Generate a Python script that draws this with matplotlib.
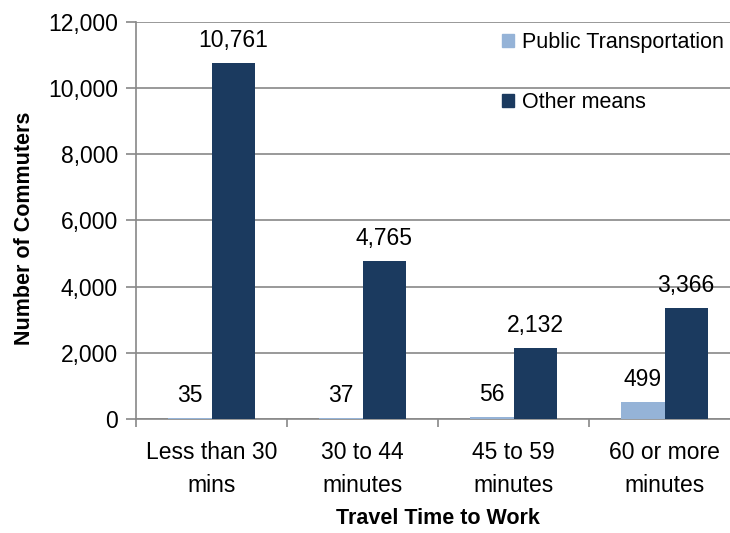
import matplotlib
matplotlib.use("Agg")
import matplotlib.pyplot as plt
from matplotlib.patches import Patch
import numpy as np

plt.rcParams['font.family'] = ['Liberation Sans', 'DejaVu Sans']

categories = ["Less than 30\nmins", "30 to 44\nminutes", "45 to 59\nminutes", "60 or more\nminutes"]
public_transport = [35, 37, 56, 499]
other_means = [10761, 4765, 2132, 3366]
series_names = ["Public Transportation", "Other means"]
y_ticks = [0, 2000, 4000, 6000, 8000, 10000, 12000]

light_blue = "#95B3D7"
dark_blue = "#1B3A5F"
grid_gray = "#888888"
fs = 16.5

fig = plt.figure(figsize=(7.30, 5.33), dpi=100)
ax = fig.add_axes([136 / 730, 1 - 419 / 533, 604 / 730, 397 / 533])

x = np.arange(len(categories))
w = 0.285
b1 = ax.bar(x - w / 2, public_transport, w, color=light_blue, zorder=3)
b2 = ax.bar(x + w / 2, other_means, w, color=dark_blue, zorder=3)

for bars, vals in ((b1, public_transport), (b2, other_means)):
    for rect, v in zip(bars, vals):
        ax.annotate(f"{v:,}", (rect.get_x() + rect.get_width() / 2, v),
                    xytext=(0, 8), textcoords="offset points",
                    ha="center", va="bottom", fontsize=fs)

ax.set_xlim(-0.5, len(categories) - 0.5)
ax.set_ylim(0, 12000)
ax.set_yticks(y_ticks)
ax.set_yticklabels([f"{t:,}" for t in y_ticks], fontsize=fs)
ax.yaxis.grid(True, color=grid_gray, linewidth=1.2, zorder=0)
ax.set_axisbelow(True)

ax.set_xticks(np.arange(len(categories) + 1) - 0.5)
ax.set_xticklabels([])
ax.set_xticks(x, minor=True)
ax.set_xticklabels(categories, minor=True, fontsize=fs, linespacing=1.55)
ax.tick_params(axis="x", which="minor", length=0, pad=16)
ax.tick_params(axis="x", which="major", length=6, width=1.2, color=grid_gray, direction="out")
ax.tick_params(axis="y", length=7, width=1.2, color=grid_gray, direction="out", pad=6)

for s in ("top", "right"):
    ax.spines[s].set_visible(False)
for s in ("left", "bottom"):
    ax.spines[s].set_color(grid_gray)
    ax.spines[s].set_linewidth(1.2)

ax.set_ylabel("Number of Commuters", fontsize=15.5, fontweight="bold")
ax.yaxis.set_label_coords(-101 / 604, 0.48)
ax.set_xlabel("Travel Time to Work", fontsize=15.5, fontweight="bold", labelpad=8)

handles = [Patch(color=light_blue), Patch(color=dark_blue)]
fig.legend(handles, series_names, loc="upper left", bbox_to_anchor=(502 / 730, 1 - 32 / 533),
           frameon=False, fontsize=15.5, handlelength=0.55, handleheight=0.55,
           handletextpad=0.4, labelspacing=1.8, borderaxespad=0, borderpad=0)

fig.savefig("out.png", dpi=100)
